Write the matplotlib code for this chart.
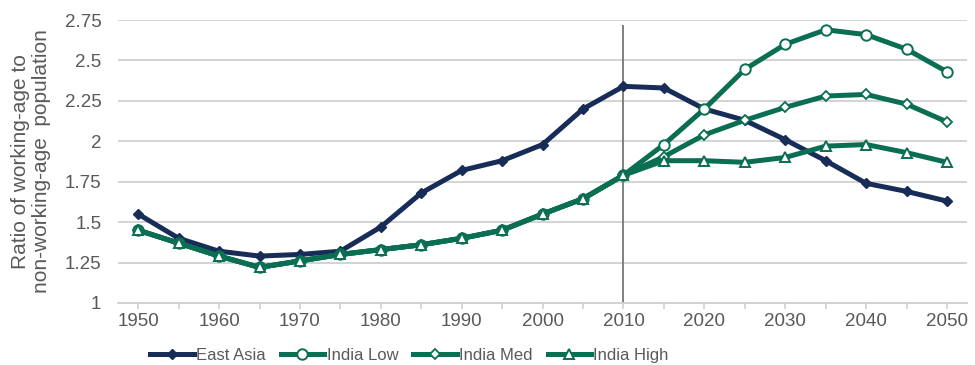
import matplotlib
matplotlib.use("Agg")
import matplotlib.pyplot as plt
from matplotlib import font_manager

years = list(range(1950, 2051, 5))

east_asia = [1.55, 1.40, 1.32, 1.29, 1.30, 1.32, 1.47, 1.68, 1.82, 1.88, 1.98,
             2.20, 2.34, 2.33, 2.20, 2.13, 2.01, 1.88, 1.74, 1.69, 1.63]
india_hist = [1.45, 1.37, 1.29, 1.22, 1.26, 1.30, 1.33, 1.36, 1.40, 1.45, 1.55,
              1.645, 1.79]
india_low = india_hist + [1.98, 2.20, 2.445, 2.60, 2.69, 2.66, 2.57, 2.43]
india_med = india_hist + [1.905, 2.04, 2.13, 2.21, 2.28, 2.29, 2.23, 2.12]
india_high = india_hist + [1.88, 1.88, 1.87, 1.90, 1.97, 1.98, 1.93, 1.87]

y_ticks = [1, 1.25, 1.5, 1.75, 2, 2.25, 2.5, 2.75]
y_tick_labels = ["1", "1.25", "1.5", "1.75", "2", "2.25", "2.5", "2.75"]
x_tick_years = list(range(1950, 2051, 10))

names = {f.name for f in font_manager.fontManager.ttflist}
family = "Liberation Sans Narrow" if "Liberation Sans Narrow" in names else "Liberation Sans"
plt.rcParams["font.family"] = [family, "DejaVu Sans"]

NAVY = "#172d57"
GREEN = "#0a6e53"
TEXT = "#595959"

fig = plt.figure(figsize=(9.75, 3.65), dpi=100)
ax = fig.add_axes([0.121, 0.170, 0.871, 0.775])

ax.plot(years, east_asia, color=NAVY, lw=3.6, marker="D", ms=5,
        mfc=NAVY, mec=NAVY, label="East Asia", clip_on=False, zorder=3)
ax.plot(years, india_low, color=GREEN, lw=3.6, marker="o", ms=7.5,
        mfc="white", mec=GREEN, mew=1.4, label="India Low", clip_on=False, zorder=4)
ax.plot(years, india_med, color=GREEN, lw=3.6, marker="D", ms=5.5,
        mfc="white", mec=GREEN, mew=1.3, label="India Med", clip_on=False, zorder=5)
ax.plot(years, india_high, color=GREEN, lw=3.6, marker="^", ms=7,
        mfc="white", mec=GREEN, mew=1.4, label="India High", clip_on=False, zorder=6)

ax.axvline(2010, ymin=0, ymax=0.98, color="#808080", lw=1.4, zorder=2)

ax.set_xlim(1947.5, 2052.5)
ax.set_ylim(1, 2.75)
ax.set_yticks(y_ticks)
ax.set_yticklabels(y_tick_labels)
ax.set_xticks(years, minor=True)
ax.set_xticks(x_tick_years)
ax.set_xticklabels([str(y) for y in x_tick_years])

ax.grid(axis="y", color="#d0d0d0", lw=1.3, zorder=0)
ax.set_axisbelow(True)
for side in ("top", "right", "left"):
    ax.spines[side].set_visible(False)
ax.spines["bottom"].set_color("#d0d0d0")
ax.spines["bottom"].set_linewidth(1.3)

ax.tick_params(axis="y", length=0, labelsize=13.5, labelcolor=TEXT, pad=12)
ax.tick_params(axis="x", which="both", length=4, color="#d0d0d0", width=1.2,
               labelsize=13.5, labelcolor=TEXT, pad=3)

ax.set_ylabel("Ratio of working-age to\nnon-working-age  population",
              fontsize=15, color=TEXT, labelpad=10, linespacing=1.1)

leg = fig.legend(handles=ax.get_lines()[:4], loc="center",
                 bbox_to_anchor=(0.42, 0.026), ncol=4, frameon=False,
                 fontsize=12, handlelength=2.6, handletextpad=0.15,
                 columnspacing=0.9, borderpad=0)
for t in leg.get_texts():
    t.set_color(TEXT)

fig.savefig("out.png", dpi=100)
